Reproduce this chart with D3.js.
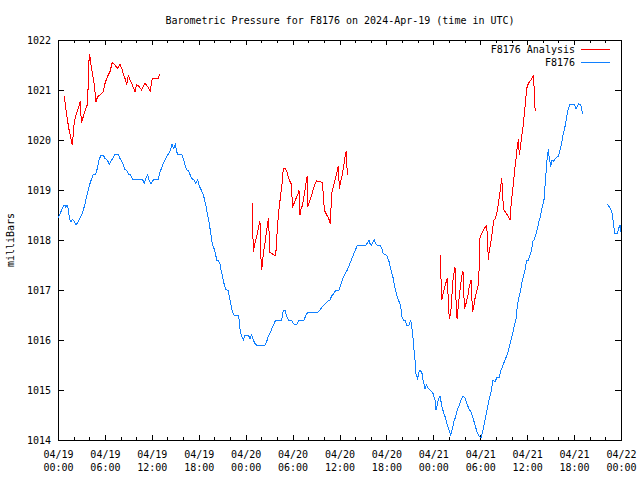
<!DOCTYPE html>
<html><head><meta charset="utf-8">
<script src="https://cdn.jsdelivr.net/npm/d3@7"></script>
<style>
body{margin:0;background:#fff}
svg text{font-family:"DejaVu Sans Mono","Liberation Mono",monospace;font-size:10px;fill:#000}
</style>
</head><body>
<svg id="chart" width="640" height="480" xmlns="http://www.w3.org/2000/svg"></svg>
<script>
// ---------------- DATA ----------------
const chartTitle = "Barometric Pressure for F8176 on 2024-Apr-19 (time in UTC)";
const yAxisLabel = "milliBars";
const seriesNames = ["F8176 Analysis", "F8176"];
const startUTC = Date.UTC(2024, 3, 19, 0, 0);   // 04/19 00:00 UTC
const spanHours = 72;
const yTickValues = [1014, 1015, 1016, 1017, 1018, 1019, 1020, 1021, 1022];
const majorTickHours = [0, 6, 12, 18, 24, 30, 36, 42, 48, 54, 60, 66, 72];
const minorTickHours = [0,2,4,6,8,10,12,14,16,18,20,22,24,26,28,30,32,34,36,38,40,42,44,46,48,50,52,54,56,58,60,62,64,66,68,70,72];

// [hours since 04/19 00:00 UTC, milliBars]
const analysisSeg1 = [[0.81,1020.88],[1.02,1020.6],[1.24,1020.37],[1.45,1020.17],[1.66,1020.03],[1.83,1019.9],[1.96,1020.13],[2.08,1020.37],[2.30,1020.5],[2.52,1020.6],[2.72,1020.7],[2.85,1020.77],[2.98,1020.35],[3.16,1020.43],[3.36,1020.53],[3.58,1020.63],[3.80,1020.73],[3.87,1021.23],[4.00,1021.71],[4.13,1021.63],[4.22,1021.5],[4.44,1021.3],[4.64,1021.1],[4.86,1020.77],[5.08,1020.87],[5.37,1020.9],[5.79,1020.97],[6.01,1021.13],[6.23,1021.23],[6.43,1021.3],[6.65,1021.37],[6.94,1021.55],[7.29,1021.5],[7.63,1021.43],[7.93,1021.51],[8.15,1021.43],[8.35,1021.33],[8.57,1021.23],[8.79,1021.11],[8.99,1021.3],[9.21,1021.2],[9.50,1021.1],[9.85,1020.97],[10.06,1021.11],[10.36,1021.07],[10.70,1021.0],[10.91,1021.07],[11.13,1021.13],[11.47,1021.07],[11.80,1020.98],[12.06,1021.23],[12.83,1021.23],[13.0,1021.31]];
const analysisSeg2 = [[24.85,1018.73],[24.9,1018.25],[24.98,1017.77],[25.10,1017.88],[25.28,1018.0],[25.49,1018.13],[25.70,1018.3],[25.83,1018.37],[25.92,1017.88],[26.0,1017.4],[26.13,1017.5],[26.26,1017.73],[26.47,1017.93],[26.69,1018.2],[26.82,1018.33],[26.89,1018.43],[27.02,1018.1],[27.11,1017.75],[27.53,1017.71],[27.84,1017.68],[27.97,1018.03],[28.17,1018.47],[28.30,1018.67],[28.48,1018.9],[28.65,1019.13],[28.81,1019.43],[29.03,1019.43],[29.25,1019.37],[29.45,1019.27],[29.67,1019.17],[29.89,1019.1],[29.96,1018.65],[30.18,1018.73],[30.44,1018.83],[30.65,1018.9],[30.82,1018.99],[30.95,1018.5],[31.08,1018.63],[31.24,1018.68],[31.46,1018.87],[31.68,1019.1],[31.81,1019.23],[31.88,1019.28],[31.97,1018.67],[32.23,1018.8],[32.44,1018.9],[32.65,1019.03],[32.87,1019.12],[33.08,1019.18],[33.51,1019.17],[33.80,1019.15],[33.93,1018.9],[34.06,1018.6],[34.36,1018.5],[34.62,1018.43],[34.82,1018.33],[34.91,1018.63],[35.0,1018.93],[35.21,1019.07],[35.42,1019.2],[35.64,1019.33],[35.85,1019.48],[35.98,1019.03],[36.15,1019.17],[36.36,1019.3],[36.58,1019.53],[36.74,1019.7],[36.87,1019.77],[37.0,1019.3]];
const analysisSeg3 = [[48.94,1017.7],[48.98,1017.23],[49.07,1016.8],[49.20,1016.9],[49.36,1017.0],[49.58,1017.13],[49.79,1017.23],[49.91,1016.8],[50.04,1016.43],[50.22,1016.53],[50.35,1016.8],[50.48,1017.17],[50.64,1017.33],[50.77,1017.45],[50.90,1016.8],[51.03,1016.43],[51.19,1016.67],[51.41,1017.0],[51.63,1017.27],[51.79,1017.38],[51.88,1016.93],[52.01,1016.63],[52.18,1016.73],[52.40,1016.87],[52.60,1017.07],[52.82,1017.19],[52.91,1016.87],[53.04,1016.57],[53.20,1016.7],[53.37,1016.87],[53.58,1017.0],[53.80,1017.13],[53.88,1017.6],[53.97,1018.05],[54.19,1018.13],[54.39,1018.2],[54.61,1018.25],[54.83,1018.29],[54.95,1017.93],[55.03,1017.6],[55.16,1017.79],[55.34,1017.93],[55.46,1018.07],[55.59,1018.23],[55.76,1018.4],[55.93,1018.43],[56.10,1018.53],[56.27,1018.67],[56.44,1018.87],[56.62,1019.07],[56.74,1019.23],[56.87,1018.93],[56.95,1018.63],[57.17,1018.57],[57.46,1018.5],[57.81,1018.41],[57.93,1018.67],[58.10,1018.93],[58.28,1019.2],[58.45,1019.47],[58.57,1019.61],[58.74,1019.87],[58.87,1020.01],[59.0,1019.7],[59.17,1019.9],[59.30,1020.07],[59.47,1020.27],[59.63,1020.5],[59.81,1020.8],[59.94,1021.03],[60.15,1021.13],[60.49,1021.2],[60.79,1021.28],[60.87,1021.1],[60.96,1020.73],[61.04,1020.57]];

const stationSeg1 = [[0,1018.45],[0.26,1018.52],[0.47,1018.6],[0.68,1018.68],[0.90,1018.7],[1.02,1018.65],[1.15,1018.7],[1.32,1018.63],[1.45,1018.43],[1.66,1018.37],[1.88,1018.41],[2.08,1018.37],[2.26,1018.31],[2.47,1018.33],[2.69,1018.4],[2.94,1018.47],[3.24,1018.6],[3.45,1018.72],[3.67,1018.87],[3.87,1019.0],[4.09,1019.13],[4.31,1019.23],[4.51,1019.31],[4.82,1019.32],[5.03,1019.43],[5.24,1019.6],[5.50,1019.7],[5.79,1019.7],[6.01,1019.63],[6.30,1019.6],[6.56,1019.52],[6.87,1019.6],[7.07,1019.65],[7.29,1019.71],[7.71,1019.71],[7.93,1019.63],[8.15,1019.57],[8.35,1019.5],[8.57,1019.41],[8.79,1019.39],[8.99,1019.32],[9.30,1019.3],[9.50,1019.22],[10.78,1019.22],[11.04,1019.13],[11.25,1019.23],[11.47,1019.31],[11.68,1019.17],[11.89,1019.13],[12.06,1019.17],[12.32,1019.22],[12.83,1019.22],[13.04,1019.35],[13.26,1019.45],[13.47,1019.53],[13.77,1019.63],[14.11,1019.72],[14.41,1019.81],[14.58,1019.91],[14.80,1019.83],[15.0,1019.91],[15.26,1019.72],[15.82,1019.72],[16.02,1019.63],[16.24,1019.5],[16.46,1019.41],[16.75,1019.37],[16.97,1019.27],[17.23,1019.21],[17.43,1019.2],[17.61,1019.13],[17.87,1019.21],[18.07,1019.08],[18.29,1019.01],[18.51,1018.93],[18.71,1018.83],[18.93,1018.67],[19.09,1018.53],[19.27,1018.4],[19.44,1018.23],[19.57,1018.1],[19.73,1017.93],[19.95,1017.83],[20.17,1017.7],[20.30,1017.6],[20.50,1017.6],[20.72,1017.52],[20.85,1017.4],[21.01,1017.3],[21.23,1017.13],[21.45,1017.01],[21.78,1016.99],[21.91,1016.87],[22.09,1016.73],[22.29,1016.57],[22.51,1016.5],[23.06,1016.5],[23.19,1016.37],[23.31,1016.17],[23.49,1016.07],[23.70,1016.0],[23.92,1016.1],[24.34,1016.1],[24.55,1016.03],[24.77,1016.1],[24.98,1016.0],[25.19,1015.93],[25.41,1015.9],[26.47,1015.9],[26.69,1015.97],[26.89,1016.07],[27.20,1016.17],[27.46,1016.27],[27.75,1016.37],[27.97,1016.4],[28.61,1016.4],[28.81,1016.59],[29.03,1016.59],[29.25,1016.47],[29.45,1016.4],[29.89,1016.4],[30.09,1016.33],[30.40,1016.3],[30.60,1016.33],[30.82,1016.4],[31.46,1016.4],[31.72,1016.5],[31.97,1016.56],[33.25,1016.56],[33.51,1016.6],[33.89,1016.68],[34.27,1016.74],[34.53,1016.78],[34.78,1016.8],[35.0,1016.88],[35.21,1016.92],[35.42,1016.97],[35.64,1017.0],[35.94,1017.0],[36.15,1017.1],[36.36,1017.2],[36.58,1017.28],[36.79,1017.35],[37.0,1017.4],[37.22,1017.48],[37.43,1017.57],[37.64,1017.65],[37.85,1017.73],[38.07,1017.81],[38.28,1017.9],[39.39,1017.9],[39.61,1017.95],[39.77,1018.0],[39.90,1017.93],[40.07,1017.9],[40.25,1017.95],[40.45,1018.0],[40.63,1017.93],[40.83,1017.9],[41.18,1017.9],[41.40,1017.83],[41.60,1017.73],[41.91,1017.7],[42.11,1017.67],[42.33,1017.57],[42.55,1017.43],[42.68,1017.33],[42.88,1017.23],[43.01,1017.1],[43.19,1016.97],[43.39,1016.87],[43.61,1016.77],[43.83,1016.67],[43.96,1016.47],[44.16,1016.4],[44.38,1016.4],[44.60,1016.3],[44.89,1016.3],[45.11,1016.4],[45.23,1016.27],[45.36,1016.1],[45.49,1015.9],[45.56,1015.73],[45.66,1015.6],[45.78,1015.33],[46.0,1015.23],[46.21,1015.39],[46.51,1015.37],[46.72,1015.17],[46.93,1015.03],[47.15,1015.1],[47.36,1015.03],[47.57,1015.0],[47.79,1014.97],[47.99,1014.92],[48.21,1014.8],[48.34,1014.6],[48.51,1014.7],[48.63,1014.8],[48.85,1014.88],[48.98,1014.77],[49.15,1014.63],[49.36,1014.53],[49.58,1014.43],[49.79,1014.3],[50.0,1014.2],[50.22,1014.1],[50.43,1014.23],[50.64,1014.37],[50.86,1014.47],[51.07,1014.6],[51.28,1014.68],[51.54,1014.8],[51.80,1014.88],[52.05,1014.84],[52.31,1014.72],[52.56,1014.62],[52.82,1014.56],[53.07,1014.44],[53.33,1014.3],[53.59,1014.16],[53.84,1014.08],[54.10,1014.04],[54.35,1014.2],[54.61,1014.4],[54.87,1014.6],[55.12,1014.8],[55.38,1014.96],[55.64,1015.2],[55.89,1015.16],[56.15,1015.26],[56.41,1015.24],[56.66,1015.4],[56.92,1015.5],[57.17,1015.6],[57.43,1015.7],[57.69,1015.84],[57.94,1016.0],[58.20,1016.16],[58.38,1016.3],[58.57,1016.41],[58.74,1016.67],[58.96,1016.87],[59.17,1017.0],[59.30,1017.13],[59.51,1017.27],[59.72,1017.4],[59.94,1017.6],[60.15,1017.6],[60.36,1017.7],[60.58,1017.8],[60.71,1017.97],[60.87,1018.0],[61.09,1018.1],[61.30,1018.23],[61.51,1018.37],[61.73,1018.5],[61.94,1018.67],[62.15,1018.8],[62.28,1019.07],[62.41,1019.33],[62.54,1019.6],[62.70,1019.81],[62.83,1019.64],[63.01,1019.47],[63.18,1019.6],[63.34,1019.57],[63.56,1019.62],[63.85,1019.67],[63.98,1019.67],[64.20,1019.8],[64.42,1019.95],[64.62,1020.13],[64.84,1020.27],[65.06,1020.47],[65.26,1020.63],[65.48,1020.72],[65.99,1020.72],[66.25,1020.63],[66.41,1020.67],[66.59,1020.72],[66.85,1020.7],[67.10,1020.53]];
const stationSeg2 = [[70.25,1018.72],[70.47,1018.67],[70.68,1018.61],[70.89,1018.53],[71.02,1018.33],[71.23,1018.13],[71.53,1018.13],[71.70,1018.23],[71.87,1018.3],[71.96,1018.17],[72.0,1018.23]];

const analysisSegments = [analysisSeg1, analysisSeg2, analysisSeg3];
const stationSegments = [stationSeg1, stationSeg2];
const seriesColors = ["#ff0000", "#1080ff"];

// ---------------- DRAW ----------------
const toDate = h => new Date(startUTC + h * 3600000);
const L = 58, R = 621, T = 40, B = 440;
const svg = d3.select("#chart");
svg.append("rect").attr("width", 640).attr("height", 480).attr("fill", "#fff");

const x = d3.scaleUtc().domain([toDate(0), toDate(spanHours)]).range([L, R]);
const y = d3.scaleLinear().domain([yTickValues[0], yTickValues[yTickValues.length - 1]]).range([B, T]);

function styleAxis(g) {
  g.select(".domain").remove();
  g.selectAll("line").attr("stroke", "#000").attr("shape-rendering", "crispEdges");
  g.attr("font-family", null).attr("font-size", null);
}

// minor x ticks bottom / top
svg.append("g").attr("transform", `translate(0,${B})`)
  .call(d3.axisBottom(x).tickValues(minorTickHours.map(toDate)).tickSizeInner(-3).tickSizeOuter(0).tickFormat(""))
  .call(styleAxis);
svg.append("g").attr("transform", `translate(0,${T})`)
  .call(d3.axisTop(x).tickValues(minorTickHours.map(toDate)).tickSizeInner(-3).tickSizeOuter(0).tickFormat(""))
  .call(styleAxis);
// major x ticks top
svg.append("g").attr("transform", `translate(0,${T})`)
  .call(d3.axisTop(x).tickValues(majorTickHours.map(toDate)).tickSizeInner(-5).tickSizeOuter(0).tickFormat(""))
  .call(styleAxis);
// major x ticks bottom with labels
const fmtDate = d3.utcFormat("%m/%d"), fmtTime = d3.utcFormat("%H:%M");
const xb = svg.append("g").attr("transform", `translate(0,${B})`)
  .call(d3.axisBottom(x).tickValues(majorTickHours.map(toDate)).tickSizeInner(-5).tickSizeOuter(0).tickFormat(fmtDate))
  .call(styleAxis);
xb.selectAll(".tick text").each(function(d) {
  const t = d3.select(this);
  t.text(null).attr("y", 0).attr("dy", null).attr("fill", "#000");
  t.append("tspan").attr("x", 0).attr("y", 18).text(fmtDate(d));
  t.append("tspan").attr("x", 0).attr("y", 31).text(fmtTime(d));
});

// y axes
const yl = svg.append("g").attr("transform", `translate(${L},0)`)
  .call(d3.axisLeft(y).tickValues(yTickValues).tickSizeInner(-6).tickSizeOuter(0).tickPadding(7).tickFormat(d3.format("d")))
  .call(styleAxis);
yl.selectAll(".tick text").attr("fill", "#000");
svg.append("g").attr("transform", `translate(${R},0)`)
  .call(d3.axisRight(y).tickValues(yTickValues).tickSizeInner(-6).tickSizeOuter(0).tickFormat(""))
  .call(styleAxis);

// border
svg.append("rect").attr("x", L + 0.5).attr("y", T + 0.5).attr("width", R - L).attr("height", B - T)
  .attr("fill", "none").attr("stroke", "#000").attr("shape-rendering", "crispEdges");

// series
const lineGen = d3.line().x(d => x(toDate(d[0]))).y(d => y(d[1]));
const plot = svg.append("g");
[analysisSegments, stationSegments].forEach((segs, i) => {
  plot.selectAll(null).data(segs).enter().append("path")
    .attr("d", lineGen).attr("fill", "none").attr("stroke", seriesColors[i])
    .attr("stroke-width", 1).attr("shape-rendering", "crispEdges");
});

// title & labels
svg.append("text").attr("x", (L + R) / 2 + 0.5).attr("y", 24).attr("text-anchor", "middle").text(chartTitle);
svg.append("text").attr("transform", "translate(14,240) rotate(-90)").attr("text-anchor", "middle").text(yAxisLabel);

// legend
const legendRows = [49, 62];
const legend = svg.append("g");
seriesNames.forEach((name, i) => {
  legend.append("text").attr("x", 575).attr("y", legendRows[i] + 4).attr("text-anchor", "end").text(name);
  legend.append("rect").attr("x", 581).attr("y", legendRows[i]).attr("width", 29).attr("height", 1)
    .style("fill", seriesColors[i]);
});
</script>
</body></html>
